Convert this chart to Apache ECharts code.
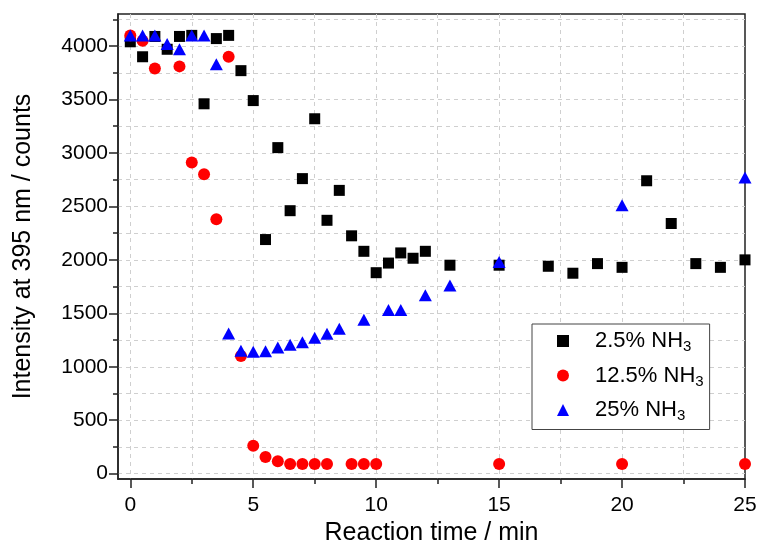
<!DOCTYPE html>
<html>
<head>
<meta charset="utf-8">
<script src="https://cdn.jsdelivr.net/npm/echarts@6/dist/echarts.min.js"></script>
<style>html,body{margin:0;padding:0;background:#fff;}#c{width:761px;height:544px;}</style>
</head>
<body>
<div id="c"></div>
<script>
// ---- data ----
const seriesNames = ['2.5% NH3', '12.5% NH3', '25% NH3'];
const tBlack = [0,0.5,1,1.5,2,2.5,3,3.5,4,4.5,5,5.5,6,6.5,7,7.5,8,8.5,9,9.5,10,10.5,11,11.5,12,13,15,17,18,19,20,21,22,23,24,25];
const iBlack = [4040,3900,4090,3970,4090,4100,3460,4070,4100,3770,3490,2190,3050,2460,2760,3320,2370,2650,2225,2080,1880,1970,2065,2015,2080,1950,1950,1940,1875,1965,1930,2740,2340,1965,1930,2000];
const tRed = [0,0.5,1,2,2.5,3,3.5,4,4.5,5,5.5,6,6.5,7,7.5,8,9,9.5,10,15,20,25];
const iRed = [4100,4050,3790,3810,2910,2800,2380,3900,1100,260,155,115,90,90,90,90,90,90,90,90,90,90];
const tBlue = [0,0.5,1,1.5,2,2.5,3,3.5,4,4.5,5,5.5,6,6.5,7,7.5,8,8.5,9.5,10.5,11,12,13,15,20,25];
const iBlue = [4100,4100,4100,4020,3970,4100,4100,3830,1310,1150,1140,1145,1180,1205,1230,1272,1308,1355,1440,1530,1530,1670,1760,1980,2510,2770];
const xLabels = [0,5,10,15,20,25];
const xGridTicks = [0,2.5,5,7.5,10,12.5,15,17.5,20,22.5];
const yLabels = [0,500,1000,1500,2000,2500,3000,3500,4000];
const yGridTicks = [0,250,500,750,1000,1250,1500,1750,2000,2250,2500,2750,3000,3250,3500,3750,4000,4250];

const zip = (a, b) => a.map((v, i) => [v, b[i]]);
const FONT = 'Liberation Sans';
const axisColor = '#222';

const chart = echarts.init(document.getElementById('c'), null, {renderer: 'canvas'});
const option = {
  animation: false,
  backgroundColor: '#fff',
  textStyle: {fontFamily: FONT},
  grid: {left: 118, right: 16, top: 14, bottom: 65, show: true, borderColor: axisColor, borderWidth: 1.5, backgroundColor: 'transparent', containLabel: false, outerBoundsMode: 'none'},
  xAxis: [
    {
      type: 'value', min: -0.5, max: 25,
      name: 'Reaction time / min', nameLocation: 'middle', nameGap: 42,
      nameTextStyle: {fontSize: 25, color: '#000', fontFamily: FONT},
      axisLine: {show: true, onZero: false, lineStyle: {color: axisColor, width: 1.5}},
      axisTick: {show: true, length: 5, customValues: xGridTicks, lineStyle: {color: axisColor, width: 1.5}},
      axisLabel: {show: true, customValues: xLabels, fontSize: 21, color: '#000', margin: 16, fontFamily: FONT, formatter: v => String(v)},
      splitLine: {show: true, lineStyle: {color: '#cfcfcf', type: [4, 4], width: 1}}
    },
    {
      type: 'value', min: -0.5, max: 25, position: 'bottom',
      axisLine: {show: false, onZero: false},
      axisTick: {show: true, length: 9, customValues: xLabels, lineStyle: {color: axisColor, width: 1.5}},
      axisLabel: {show: false},
      splitLine: {show: false}
    }
  ],
  yAxis: [
    {
      type: 'value', min: -50, max: 4300,
      name: 'Intensity at 395 nm / counts', nameLocation: 'middle', nameGap: 82,
      nameTextStyle: {fontSize: 25, color: '#000', fontFamily: FONT},
      axisLine: {show: true, onZero: false, lineStyle: {color: axisColor, width: 1.5}},
      axisTick: {show: true, length: 5, customValues: yGridTicks, lineStyle: {color: axisColor, width: 1.5}},
      axisLabel: {show: true, customValues: yLabels, fontSize: 21, color: '#000', margin: 10, fontFamily: FONT, formatter: v => String(v)},
      splitLine: {show: true, lineStyle: {color: '#cfcfcf', type: [4, 4], width: 1}}
    },
    {
      type: 'value', min: -50, max: 4300, position: 'left',
      axisLine: {show: false, onZero: false},
      axisTick: {show: true, length: 9, customValues: yLabels, lineStyle: {color: axisColor, width: 1.5}},
      axisLabel: {show: false},
      splitLine: {show: false}
    }
  ],
  legend: {
    show: true, orient: 'vertical', left: 532, top: 324,
    padding: [6, 6, 6, 25], itemGap: 10, itemWidth: 12, itemHeight: 12,
    borderColor: '#444', borderWidth: 1, backgroundColor: '#fff',
    data: [
      {name: seriesNames[0], icon: 'rect', itemStyle: {color: '#000'}},
      {name: seriesNames[1], icon: 'circle', itemStyle: {color: '#ff0000'}},
      {name: seriesNames[2], icon: 'triangle', itemStyle: {color: '#0000ff'}}
    ],
    formatter: name => '{m|' + name.replace('NH3', 'NH') + '}{s|3}',
    textStyle: {
      fontFamily: FONT, fontSize: 22, color: '#000',
      rich: {
        m: {fontSize: 22, fontFamily: FONT, color: '#000', padding: [0, 0, 0, 21]},
        s: {fontSize: 15, fontFamily: FONT, color: '#000', verticalAlign: 'bottom', padding: [12, 0, 0, 0]}
      }
    }
  },
  series: [
    {name: seriesNames[0], type: 'scatter', data: zip(tBlack, iBlack), symbol: 'rect', symbolSize: 11, itemStyle: {color: '#000', opacity: 1}, z: 2},
    {name: seriesNames[1], type: 'scatter', data: zip(tRed, iRed), symbol: 'circle', symbolSize: 12, itemStyle: {color: '#ff0000', opacity: 1}, z: 3},
    {name: seriesNames[2], type: 'scatter', data: zip(tBlue, iBlue), symbol: 'triangle', symbolSize: [13, 12], itemStyle: {color: '#0000ff', opacity: 1}, z: 4}
  ]
};
chart.setOption(option);
</script>
</body>
</html>
